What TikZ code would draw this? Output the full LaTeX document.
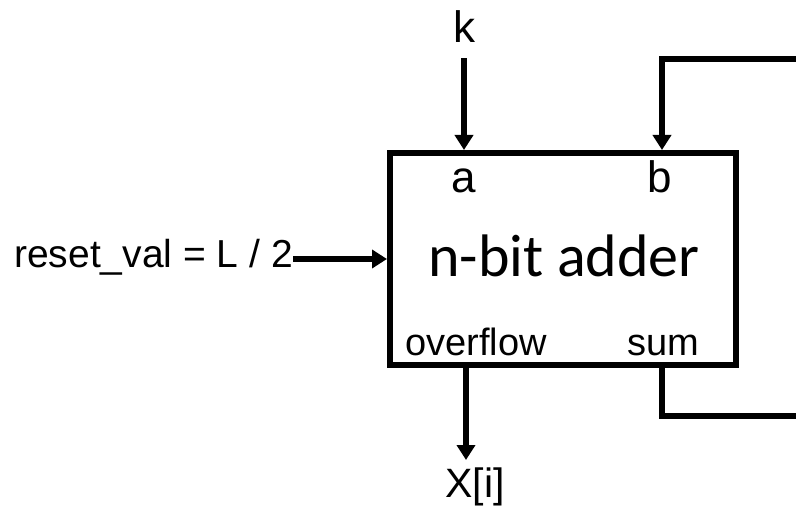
\documentclass[tikz,border=0pt]{standalone}
\usepackage{fontspec}
\setmainfont{Liberation Sans}
\newfontfamily\titlefont{Carlito}
\usetikzlibrary{arrows.meta,calc}
\begin{document}
\begin{tikzpicture}[x=1pt,y=1pt,
  wire/.style={line width=6pt},
  arr/.style={wire,-{Triangle[length=15pt,width=18pt]}},
  lbl/.style={inner sep=0pt,anchor=base},
  big/.style={font=\fontsize{44}{48}\selectfont},
  mid/.style={font=\fontsize{38}{42}\selectfont},
  huge/.style={font=\titlefont\fontsize{60}{64}\selectfont}]
\useasboundingbox (0,0) rectangle (796,507);

% adder block
\node[draw,wire,minimum width=346pt,minimum height=212pt,inner sep=0pt] (adder) at (563,248) {};
\node[lbl,huge] (title) at (564,230) {n-bit adder};
\node[lbl,big] (pa) at (464,314) {a};
\node[lbl,big] (pb) at (660,314) {b};
\node[lbl,mid] (pov) at (476,152) {overflow};
\node[lbl,mid] (psum) at (663,152) {sum};

% external signals
\node[lbl,big] (k) at (464,464) {k};
\node[lbl,font=\fontsize{39}{43}\selectfont,anchor=base east] (reset) at (293,239) {reset\_val = L / 2};
\node[lbl,font=\fontsize{41}{45}\selectfont] (xi) at (475,10) {X[i]};

% pin points on the block and the free ends of the loop
\coordinate (fbin) at (810,448);
\coordinate (fbout) at (810,91);
\coordinate (sumpin) at (662,139);
\coordinate (bpin) at (662,357);
\coordinate (ovpin) at (466,139);
\coordinate (ovend) at (466,47);

% connectors
\draw[arr,shorten <=15pt] (k.south) -- (k.south |- adder.north);
\draw[arr] (reset.east |- adder.west) -- (adder.west);
\draw[arr] (ovpin) -- (ovend);
\draw[arr] (fbin) -- (fbin -| bpin) -- (bpin);
\draw[wire] (sumpin) -- (sumpin |- fbout) -- (fbout);
\end{tikzpicture}
\end{document}
